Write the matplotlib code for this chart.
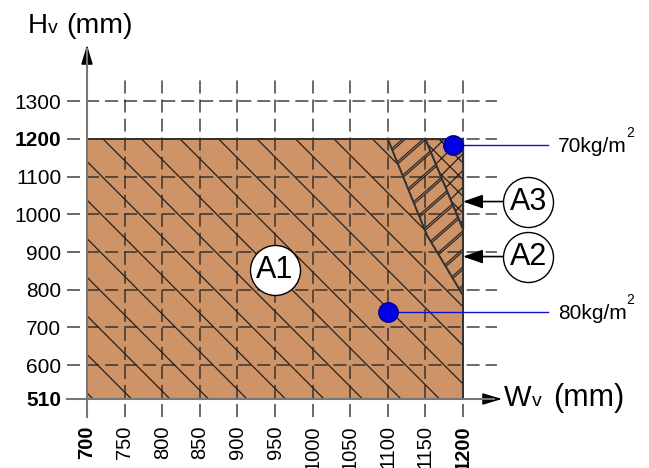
import numpy as np
import matplotlib.pyplot as plt
from matplotlib.patches import Polygon, Rectangle

plt.rcParams['font.family'] = ['Liberation Sans', 'DejaVu Sans']
plt.rcParams['lines.scale_dashes'] = False
plt.rcParams['hatch.linewidth'] = 0.9
plt.rcParams['hatch.color'] = '#222222'

# --- données ---
x_ticks = [700, 750, 800, 850, 900, 950, 1000, 1050, 1100, 1150, 1200]
y_ticks = [510, 600, 700, 800, 900, 1000, 1100, 1200, 1300]
bold_ticks_x = [700, 1200]
bold_ticks_y = [510, 1200]

# zones (W, H) en mm
zone_a1 = [(700, 510), (1200, 510), (1200, 785), (1152, 945), (1100, 1200), (700, 1200)]
zone_a2 = [(1100, 1200), (1150, 1200), (1200, 960), (1200, 785), (1152, 945)]
zone_a3 = [(1150, 1200), (1200, 1200), (1200, 960)]

# points de charge
dot_w = [1187, 1100]
dot_h = [1185, 740]
dot_labels = ['70kg/m', '80kg/m']

# étiquettes des zones
zone_names = ['A1', 'A2', 'A3']
zone_lab_w = [950, 1287, 1287]
zone_lab_h = [852, 888, 1034]

brown = '#CE9367'
dark = '#222222'

# --- mise en page (pixels de la figure) ---
W, H = 649, 468
fig = plt.figure(figsize=(W / 100, H / 100), dpi=100)
px_x700, px_x1200 = 87, 463
px_y510, px_y1200 = 399, 139
sx = (px_x1200 - px_x700) / 500
sy = (px_y510 - px_y1200) / 690
xlim = (640, 1280)
ylim = (440, 1480)
left = px_x700 - (700 - xlim[0]) * sx
right = px_x700 + (xlim[1] - 700) * sx
bottom = px_y510 + (510 - ylim[0]) * sy
top = px_y510 - (ylim[1] - 510) * sy
ax = fig.add_axes([left / W, 1 - bottom / H, (right - left) / W, (bottom - top) / H])
ax.set_xlim(xlim)
ax.set_ylim(ylim)
ax.patch.set_visible(False)

x_lo = 700 - 20 / sx      # début des tirets à gauche
y_lo = 510 - 18 / sy      # bas des tirets verticaux
x_tip = 700 + (502 - px_x700) / sx
y_tip = 510 + (px_y510 - 45) / sy

# fond marron
ax.add_patch(Rectangle((700, 510), 500, 690, facecolor=brown, edgecolor='none', zorder=1))

p1 = Polygon(zone_a1, closed=True, facecolor='none', edgecolor='none', zorder=2)
p2 = Polygon(zone_a2, closed=True, facecolor='none', edgecolor='none', zorder=2)
ax.add_patch(p1)
ax.add_patch(p2)

# hachures A1 (\)
step1 = 38.5 / sx
for x0 in np.arange(708, 1560, step1):
    ln, = ax.plot([x0, x0 - 345], [510, 1200], color=dark, lw=0.9, zorder=2)
    ln.set_clip_path(p1)

# hachures A2 (/) en double trait
for k in range(-10, 4):
    xs = np.array([1080, 1220])
    ys = 1135 + 1.75 * (xs - 1112) + 48 * k
    l1, = ax.plot(xs, ys, color=dark, lw=2.2, zorder=2)
    l2, = ax.plot(xs, ys, color='#a87555', lw=0.7, zorder=2)
    l1.set_clip_path(p2)
    l2.set_clip_path(p2)

# A3 quadrillé
ax.add_patch(Polygon(zone_a3, closed=True, facecolor=brown, edgecolor=dark,
                     hatch='xx', lw=0.9, zorder=2))

# grille en tirets
dash = (0, (9.4, 4.3))
for v in y_ticks[1:]:
    ax.plot([x_lo, 1245], [v, v], ls=dash, color='#222222', lw=1.1, alpha=0.85,
            zorder=3, clip_on=False)
for v in x_ticks[1:]:
    ax.plot([v, v], [y_lo, 1362], ls=dash, color='#222222', lw=1.1, alpha=0.85,
            zorder=3, clip_on=False)

# contours des zones
for z in (zone_a1, zone_a2, zone_a3):
    ax.add_patch(Polygon(z, closed=True, facecolor='none', edgecolor='#333333',
                         lw=1.2, zorder=4))
ax.add_patch(Rectangle((700, 510), 500, 690, facecolor='none', edgecolor='#333333',
                       lw=1.4, zorder=4))

# axes
for s in ['top', 'right']:
    ax.spines[s].set_visible(False)
ax.spines['left'].set_position(('data', 700))
ax.spines['bottom'].set_position(('data', 510))
ax.spines['left'].set_bounds(y_lo, y_tip - 10)
ax.spines['bottom'].set_bounds(x_lo, x_tip - 10)
for s in ['left', 'bottom']:
    ax.spines[s].set_color('#777777')
    ax.spines[s].set_linewidth(1.5)
    ax.spines[s].set_zorder(5)
ax.annotate('', xy=(700, y_tip), xytext=(700, y_tip - 30), annotation_clip=False,
            arrowprops=dict(arrowstyle='-|>,head_length=1.0,head_width=0.3',
                            mutation_scale=12, color='black', lw=1, shrinkA=0, shrinkB=0))
ax.annotate('', xy=(x_tip, 510), xytext=(x_tip - 15, 510), annotation_clip=False,
            arrowprops=dict(arrowstyle='-|>,head_length=1.0,head_width=0.3',
                            mutation_scale=12, color='black', lw=1, shrinkA=0, shrinkB=0))

ax.set_xticks(x_ticks, [str(v) for v in x_ticks], rotation=90)
ax.set_yticks(y_ticks, [str(v) for v in y_ticks])
ax.tick_params(length=0, colors='black')
ax.tick_params(axis='x', pad=19, labelsize=14.5)
ax.tick_params(axis='y', pad=18.5, labelsize=15)
for t, v in zip(ax.get_xticklabels(), x_ticks):
    if v in bold_ticks_x:
        t.set_fontweight('bold')
for t, v in zip(ax.get_yticklabels(), y_ticks):
    if v in bold_ticks_y:
        t.set_fontweight('bold')

# points bleus et étiquettes
ax.plot(dot_w, dot_h, 'o', ms=14, mfc='#0000e0', mec='#00008b', mew=1, zorder=8)
for w, h, lab in zip(dot_w, dot_h, dot_labels):
    ax.plot([w, 1313], [h, h], color='#1010d0', lw=1, zorder=7, clip_on=False)
    ax.annotate(lab, xy=(1326, h), xytext=(0, -5), textcoords='offset points',
                va='baseline', ha='left', fontsize=15, annotation_clip=False)
    ax.annotate('2', xy=(1326, h), xytext=(49.5, 5.8), textcoords='offset points',
                va='baseline', ha='left', fontsize=10, annotation_clip=False)

# cercles des zones
for name, w, h in zip(zone_names, zone_lab_w, zone_lab_h):
    if name != 'A1':
        ax.annotate('', xy=(1200, h), xytext=(1254, h), annotation_clip=False,
                    arrowprops=dict(arrowstyle='-|>,head_length=1.0,head_width=0.35',
                                    mutation_scale=12, color='black', lw=1.2,
                                    shrinkA=0, shrinkB=0), zorder=8)
    ax.plot(w, h, 'o', ms=36, mfc='white', mec='black', mew=1, zorder=9, clip_on=False)
    ax.text(w, h, name, ha='center', va='center', fontsize=22, zorder=10, clip_on=False)

# titres des axes
def put(xp, yp, s, size):
    fig.text(xp / W, 1 - yp / H, s, fontsize=size, va='baseline', ha='left')

put(28, 33, 'H', 20)
put(48, 33, 'v', 14)
put(66, 33, '(mm)', 20.5)
put(504, 406, 'W', 21)
put(532, 406, 'v', 14)
put(553, 406, '(mm)', 22)

fig.savefig('out.png', dpi=100)
